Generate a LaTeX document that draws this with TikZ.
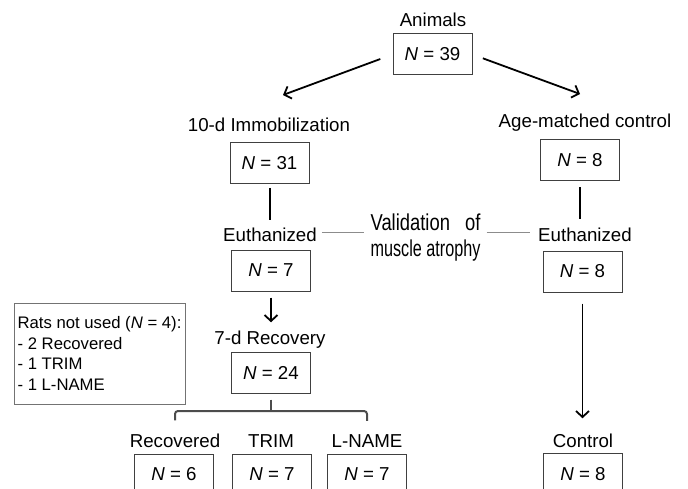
\documentclass[tikz,border=0pt]{standalone}
\usepackage{fontspec}
\setmainfont{Liberation Sans}
\usetikzlibrary{arrows.meta}

\begin{document}
\begin{tikzpicture}[x=1pt, y=-1pt,
    every node/.style={inner sep=0pt, font=\fontsize{18.7}{22}\selectfont},
    nbox/.style={draw=black!75, line width=1pt, minimum width=79pt, minimum height=41pt},
    link/.style={line width=2pt, shorten <=4pt, shorten >=7pt},
    arrow/.style={line width=1.8pt, -{Straight Barb[length=6pt,width=13pt,line width=1.8pt]}},
    faint/.style={draw=black!45, line width=0.9pt, shorten <=5pt, shorten >=6pt},
    bracket/.style={draw=black!70, line width=2pt, rounded corners=3pt},
    ]

    \useasboundingbox (0,0) rectangle (688,489);
    \clip (0,0) rectangle (688,489);

    % Top
    \node[anchor=base] (animals) at (433,27) {Animals};
    \node[nbox] (n39) at (432.5,54.5) {\textit{N} = 39};

    % Left branch
    \node[anchor=base] (immob) at (269,132) {10-d Immobilization};
    \node[nbox] (n31) at (269.5,163) {\textit{N} = 31};
    \node[anchor=base] (euthL) at (270,241) {Euthanized};
    \node[nbox] (n7) at (271,270.5) {\textit{N} = 7};
    \node[anchor=base] (recov) at (270,344) {7-d Recovery};
    \node[nbox] (n24) at (271,372.5) {\textit{N} = 24};

    % Right branch
    \node[anchor=base] (agectl) at (585,128) {Age-matched control};
    \node[nbox] (n8a) at (580,160.5) {\textit{N} = 8};
    \node[anchor=base] (euthR) at (585,241) {Euthanized};
    \node[nbox] (n8b) at (582.5,271.5) {\textit{N} = 8};
    \node[anchor=base] (control) at (583,447) {Control};
    \node[nbox] (n8c) at (583,474) {\textit{N} = 8};

    % Groups
    \node[anchor=base] (rec) at (175,447) {Recovered};
    \node[anchor=base] (trim) at (271,447) {TRIM};
    \node[anchor=base] (lname) at (367,447) {L-NAME};
    \node[nbox] (nrec) at (174,474.5) {\textit{N} = 6};
    \node[nbox] (ntrim) at (272,474.5) {\textit{N} = 7};
    \node[nbox] (nlname) at (367,474.5) {\textit{N} = 7};

    % Side notes
    \node[draw=black!55, line width=0.9pt, minimum width=171pt, minimum height=101pt,
          align=left, font=\fontsize{16.7}{20.5}\selectfont] (notused) at (99.5,353.5)
          {Rats not used (\textit{N} = 4):\\- 2 Recovered\\- 1 TRIM\\- 1 L-NAME};
    \node[font=\fontsize{23}{26}\selectfont, xscale=0.8, transform shape] (valid) at (425.5,238)
          {\begin{tabular}{@{}l@{}}Validation\hfill of\\\scalebox{0.88}[1]{muscle atrophy}\end{tabular}};

    % Arrows
    \coordinate (toimm) at (283,95);
    \coordinate (toage) at (580,94);
    \draw[arrow, shorten <=13pt] (n39.west) -- (toimm);
    \draw[arrow, shorten <=11pt] (n39.east) -- (toage);
    \draw[link] (n31.south) -- (n31.south |- euthL.north);
    \draw[link, shorten <=6pt, shorten >=8pt] (n8a.south) -- (n8a.south |- euthR.north);
    \draw[arrow, shorten <=6pt, shorten >=8pt] (n7.south) -- (n7.south |- recov.north);
    \draw[arrow, shorten <=11pt, shorten >=15pt] (n8b.south) -- (n8b.south |- control.north);

    % Validation lines
    \draw[faint] ([yshift=2pt]euthL.east) -- ([yshift=2pt]euthL.east -| valid.west);
    \draw[faint, shorten <=6pt, shorten >=8pt] ([yshift=2pt]euthR.west -| valid.east) -- ([yshift=2pt]euthR.west);

    % Bracket
    \coordinate (brk) at (271,411);
    \draw[bracket] ([yshift=13pt]rec.north) |- (brk) -| ([yshift=13pt]lname.north);
    \draw[bracket] ([yshift=-6pt]n24.south) -- (brk);

\end{tikzpicture}
\end{document}
